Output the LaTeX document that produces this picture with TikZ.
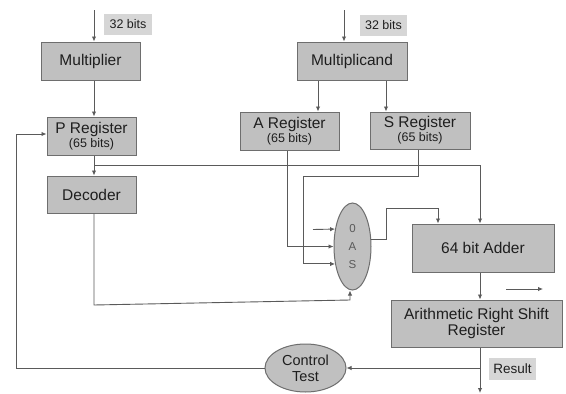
\documentclass[tikz,border=0pt]{standalone}
\usepackage{fontspec}
\setmainfont{Liberation Sans}
\usetikzlibrary{arrows.meta,shapes.geometric}
\definecolor{boxfill}{HTML}{C0C0C0}
\definecolor{boxline}{HTML}{6E6E6E}
\definecolor{wirec}{HTML}{5A5A5A}
\definecolor{lblfill}{HTML}{D6D6D6}
\definecolor{txt}{HTML}{1E1E1E}
\begin{document}
\begin{tikzpicture}[x=1pt,y=-1pt,
  box/.style={draw=boxline, fill=boxfill, line width=1pt, inner sep=0pt, align=center, text=txt, font=\fontsize{15.5}{17}\selectfont},
  oval/.style={ellipse, draw=boxline, fill=boxfill, line width=1pt, inner sep=0pt, align=center, text=txt},
  lbl/.style={fill=lblfill, inner sep=0pt, text=txt, font=\fontsize{12.5}{14}\selectfont},
  wire/.style={draw=wirec, line width=0.9pt},
  arr/.style={wire, -{Latex[length=5pt,width=4.5pt]}},
]
\useasboundingbox (0,0) rectangle (566,394);
\fill[white] (0,0) rectangle (566,394);

% boxes
\node[box, minimum width=99pt, minimum height=38pt] (mult) at (90.5,61) {Multiplier};
\node[box, minimum width=89pt, minimum height=38pt] (preg) at (91.5,136) {P Register\\[-3pt]{\fontsize{12.5}{13}\selectfont(65 bits)}};
\node[box, minimum width=89pt, minimum height=37pt] (dec) at (91.5,194.5) {Decoder};
\node[box, minimum width=110pt, minimum height=38pt] (mcand) at (352,61) {Multiplicand};
\node[box, minimum width=99pt, minimum height=38pt] (areg) at (289.5,131) {A Register\\[-3pt]{\fontsize{12.5}{13}\selectfont(65 bits)}};
\node[box, minimum width=100pt, minimum height=37pt] (sreg) at (420,130.5) {S Register\\[-3pt]{\fontsize{12.5}{13}\selectfont(65 bits)}};
\node[box, minimum width=142pt, minimum height=48pt] (adder) at (483,248) {64 bit Adder};
\node[box, minimum width=171pt, minimum height=47pt] (asr) at (476.5,323.5) {Arithmetic Right Shift\\[-1pt]Register};
\node[oval, minimum width=37pt, minimum height=87pt, text=wirec, font=\fontsize{11.5}{18}\selectfont] (oas) at (352.5,246.5) {0\\A\\S};
\node[oval, minimum width=81pt, minimum height=48pt, font=\fontsize{14.5}{16}\selectfont] (ctl) at (305.5,368) {Control\\Test};

% labels
\node[lbl, minimum width=48pt, minimum height=21pt] (l1) at (128,24.5) {32 bits};
\node[lbl, minimum width=47pt, minimum height=21pt] (l2) at (383.5,25.5) {32 bits};
\node[lbl, minimum width=47pt, minimum height=22pt, font=\fontsize{13.5}{14}\selectfont] (l3) at (512.5,369) {Result};

% coordinates
\coordinate (inL) at (94,10);
\coordinate (inR) at (344,10);
\coordinate (mA) at (318,0);
\coordinate (mS) at (386,0);
\coordinate (pb) at (94,165);
\coordinate (pc) at (480,165);
\coordinate (d1) at (94,305);
\coordinate (dk) at (350,300);
\coordinate (ax) at (287,0);
\coordinate (s1) at (418,176);
\coordinate (s2) at (303,176);
\coordinate (zin) at (313,229.5);
\coordinate (o1) at (386,0);
\coordinate (o2) at (438,208);
\coordinate (fa1) at (506,289);
\coordinate (fa2) at (543,289);
\coordinate (res) at (480,393);
\coordinate (rb) at (480,368);
\coordinate (fb) at (16,134);

% connectors
\draw[arr] (inL) -- (inL |- mult.north);
\draw[arr] (mult.south -| inL) -- (preg.north -| inL);
\draw[arr] (preg.south -| inL) -- (dec.north -| inL);
\draw[arr] (pb) -- (pc) -- (pc |- adder.north);
\draw[arr] (dec.south -| inL) -- (d1) -- (dk) -- (dk |- oas.south);
\draw[arr] (inR) -- (inR |- mcand.north);
\draw[arr] (mcand.south -| mA) -- (areg.north -| mA);
\draw[arr] (mcand.south -| mS) -- (sreg.north -| mS);
\draw[arr] (areg.south -| ax) |- (oas.west);
\draw[arr] (sreg.south -| s1) -- (s1) -- (s2) |- (oas.225);
\draw[arr] (zin) -- (oas.135);
\draw[arr] (oas.20) -- (o1 |- oas.20) |- (o2) -- (o2 |- adder.north);
\draw[arr] (adder.south -| pc) -- (asr.north -| pc);
\draw[arr] (fa1) -- (fa2);
\draw[arr] (asr.south -| pc) -- (res);
\draw[arr] (rb) -- (ctl.east);
\draw[arr] (ctl.west) -| (fb) -- (fb -| preg.west);
\end{tikzpicture}
\end{document}
